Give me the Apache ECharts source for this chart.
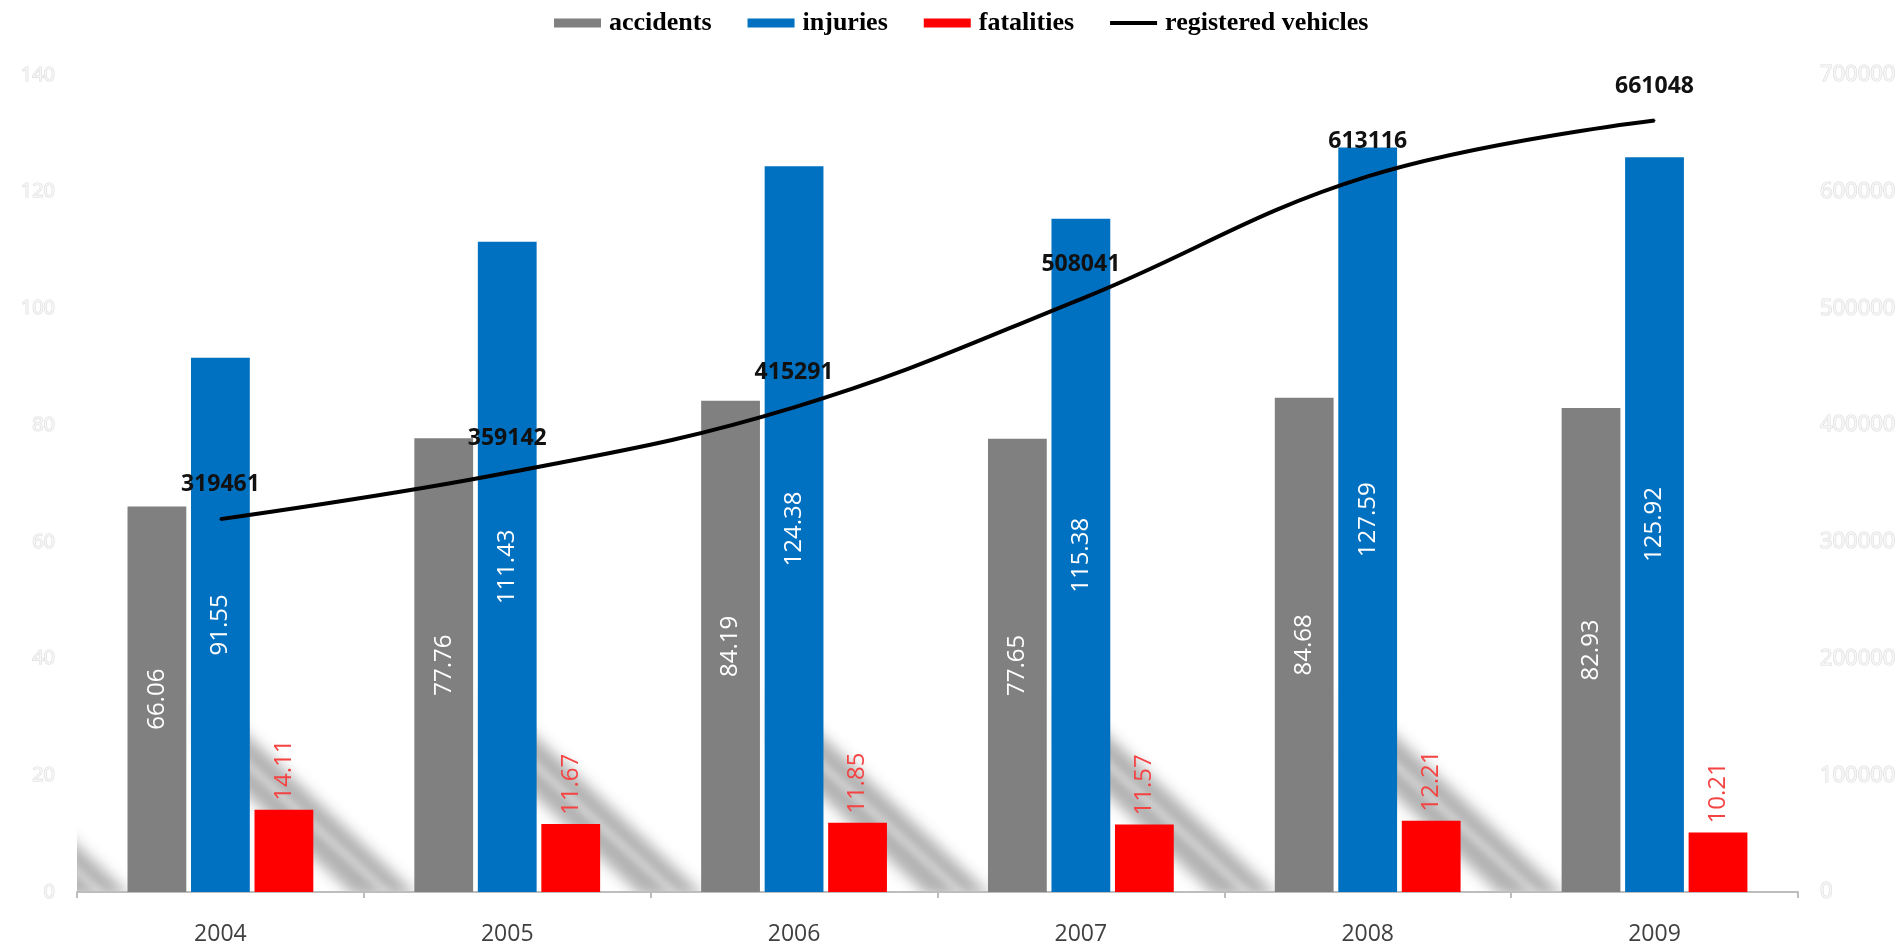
<!DOCTYPE html>
<html>
<head>
<meta charset="utf-8">
<script src="https://cdn.jsdelivr.net/npm/echarts@6/dist/echarts.min.js"></script>
<style>
html,body{margin:0;padding:0;background:#fff;}
#chart{width:1899px;height:950px;}
</style>
</head>
<body>
<div id="chart"></div>
<script>
const years = ['2004','2005','2006','2007','2008','2009'];
const accidents = [66.06, 77.76, 84.19, 77.65, 84.68, 82.93];
const injuries = [91.55, 111.43, 124.38, 115.38, 127.59, 125.92];
const fatalities = [14.11, 11.67, 11.85, 11.57, 12.21, 10.21];
const vehicles = [319461, 359142, 415291, 508041, 613116, 661048];
const leftTicks = {min: 0, max: 140, interval: 20};
const rightTicks = {min: 0, max: 700000, interval: 100000};

const chart = echarts.init(document.getElementById('chart'));

// decorative diagonal floor shadows behind each bar group
function stripeRender(params, api) {
  const cs = params.coordSys;
  const idx = api.value(0);
  const p = api.coord([idx, 0]);
  const band = api.size([1, 0])[0];
  const cx = p[0] - band; // shadow cast by the previous group
  const y0 = p[1];
  const s = 0.94;
  const far = 3000;
  const a = [cx - 20 - far, y0 - 214 * s];
  const b = [cx + 198 - far, y0 + 4];
  const c = [cx + 134 - far, y0 + 4];
  const d = [cx - 20 - far, y0 - 150 * s];
  const mA = [cx - 20 - far, y0 - 182 * s];
  const mB = [cx + 168 - far, y0 + 2];
  return {
    type: 'group',
    clipPath: {type: 'rect', shape: {x: cs.x, y: cs.y, width: cs.width, height: cs.height}},
    children: [
      {type: 'polygon', shape: {points: [a, b, c, d]},
       style: {fill: '#c4c4c4', shadowBlur: 14, shadowOffsetX: far, shadowOffsetY: 0,
               shadowColor: 'rgba(170,170,170,0.9)'}},
      {type: 'line', shape: {x1: mA[0], y1: mA[1], x2: mB[0], y2: mB[1]},
       style: {stroke: '#ffffff', lineWidth: 6, shadowBlur: 8, shadowOffsetX: far, shadowOffsetY: 0,
               shadowColor: 'rgba(228,228,228,0.9)'}}
    ]
  };
}

const barLabelFont = {fontFamily: 'Open Sans', fontSize: 24};
const axisTextStyle = {color: '#f6f6f6', textBorderColor: '#dcdcdc', textBorderWidth: 1.2,
  fontFamily: 'Open Sans', fontSize: 20, margin: 22};

chart.setOption({
  animation: false,
  backgroundColor: '#ffffff',
  legend: {
    top: 5,
    left: 549,
    itemWidth: 47,
    itemHeight: 9,
    itemGap: 36,
    textStyle: {fontFamily: 'Liberation Serif', fontWeight: 'bold', fontSize: 26, color: '#000',
      padding: [0, 0, 0, 3]},
    data: [
      {name: 'accidents', icon: 'rect'},
      {name: 'injuries', icon: 'rect'},
      {name: 'fatalities', icon: 'rect'},
      {name: 'registered vehicles', icon: 'path://M0,2.5 L47,2.5 L47,6.5 L0,6.5 Z',
       itemStyle: {color: '#000000', opacity: 1}}
    ]
  },
  grid: {left: 77, right: 98, top: 75, bottom: 58, containLabel: false},
  xAxis: {
    type: 'category',
    data: years,
    boundaryGap: true,
    axisLine: {lineStyle: {color: '#bdbdbd', width: 2}},
    axisTick: {show: true, length: 6, lineStyle: {color: '#bdbdbd', width: 2}},
    axisLabel: {color: '#404040', fontFamily: 'Open Sans', fontSize: 23, margin: 31},
    splitLine: {show: false}
  },
  yAxis: [
    {
      type: 'value', min: leftTicks.min, max: leftTicks.max, interval: leftTicks.interval,
      splitLine: {show: false}, axisLine: {show: false}, axisTick: {show: false},
      axisLabel: axisTextStyle
    },
    {
      type: 'value', min: rightTicks.min, max: rightTicks.max, interval: rightTicks.interval,
      splitLine: {show: false}, axisLine: {show: false}, axisTick: {show: false},
      axisLabel: Object.assign({}, axisTextStyle, {fontSize: 22, formatter: v => String(v)})
    }
  ],
  series: [
    {
      type: 'custom', name: 'shadow', silent: true, z: 0,
      xAxisIndex: 0, yAxisIndex: 0,
      renderItem: stripeRender,
      data: years.map((y, i) => [i]),
      tooltip: {show: false}
    },
    {
      name: 'accidents', type: 'bar', data: accidents, z: 2,
      barWidth: '20.5%', barGap: '8%',
      itemStyle: {color: '#808080'},
      label: Object.assign({show: true, position: 'inside', rotate: 90, color: '#ffffff'}, barLabelFont)
    },
    {
      name: 'injuries', type: 'bar', data: injuries, z: 2,
      barWidth: '20.5%', barGap: '8%',
      itemStyle: {color: '#0070c0'},
      label: Object.assign({show: true, position: 'inside', rotate: 90, color: '#ffffff'}, barLabelFont)
    },
    {
      name: 'fatalities', type: 'bar', data: fatalities, z: 2,
      barWidth: '20.5%', barGap: '8%',
      itemStyle: {color: '#ff0000'},
      label: Object.assign({show: true, position: 'top', rotate: 90, color: '#f44343',
        align: 'left', verticalAlign: 'middle', distance: 9}, barLabelFont)
    },
    {
      name: 'registered vehicles', type: 'line', data: vehicles, yAxisIndex: 1, z: 5,
      smooth: 0.4, showSymbol: true, symbol: 'circle', symbolSize: 2,
      lineStyle: {color: '#000000', width: 4},
      itemStyle: {color: '#000000'},
      label: {show: true, position: 'top', distance: 22, color: '#111111',
        fontFamily: 'Open Sans', fontWeight: 'bold', fontSize: 23}
    }
  ]
});
</script>
</body>
</html>
